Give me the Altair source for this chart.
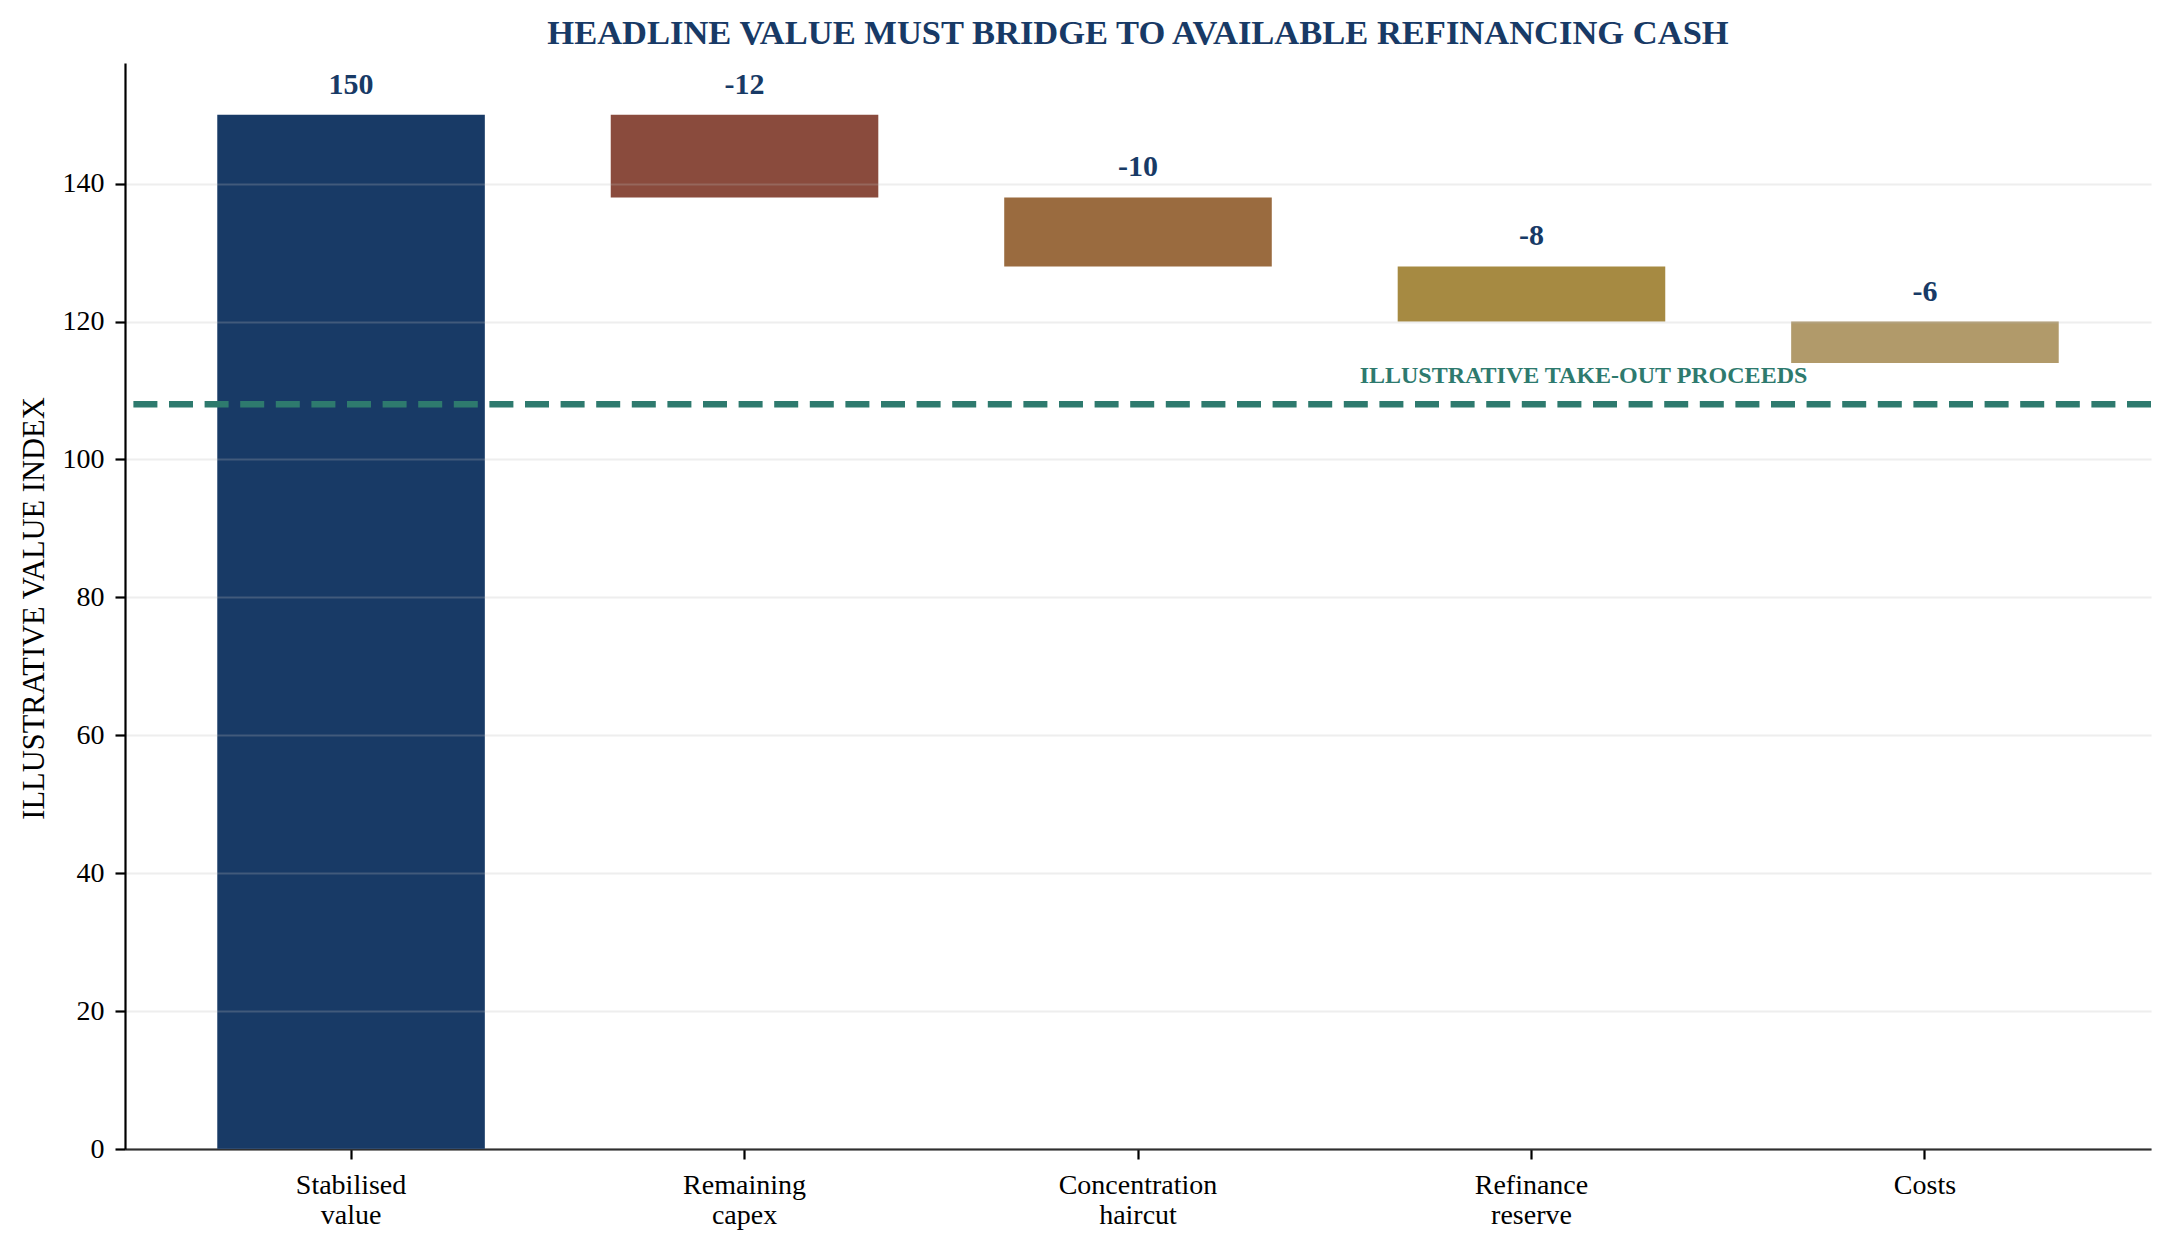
import altair as alt
import pandas as pd

# Waterfall steps
steps = ["Stabilised value", "Remaining capex", "Concentration haircut", "Refinance reserve", "Costs"]
deltas = [150, -12, -10, -8, -6]
value_labels = ["150", "-12", "-10", "-8", "-6"]
bar_colors = ["#183A66", "#8A4B3D", "#9A6B3F", "#A68A42", "#B19A6A"]

takeout = 108
takeout_step = "Refinance reserve"
takeout_label = "ILLUSTRATIVE TAKE-OUT PROCEEDS"

y_ticks = [0, 20, 40, 60, 80, 100, 120, 140]
y_max = 157.5

NAVY = "#183A66"
TEAL = "#2E7A6E"
SERIF = "Liberation Serif"

# running totals for the bridge
end = pd.Series(deltas).cumsum()
start = end - pd.Series(deltas)
bars = pd.DataFrame({
    "step": steps,
    "hi": pd.concat([start, end], axis=1).max(axis=1),
    "lo": pd.concat([start, end], axis=1).min(axis=1),
    "label": value_labels,
})

x_enc = alt.X(
    "step:N",
    sort=steps,
    scale=alt.Scale(paddingInner=0.32, paddingOuter=0.2345),
    axis=alt.Axis(
        title=None, labelAngle=0, labelExpr="split(datum.label, ' ')",
        labelFontSize=28, labelLineHeight=30, labelPadding=12,
        tickSize=10, grid=False,
    ),
)
y_scale = alt.Scale(domain=[0, y_max], nice=False, zero=True)

bar_layer = alt.Chart(bars).mark_bar().encode(
    x=x_enc,
    y=alt.Y("hi:Q", scale=y_scale, axis=alt.Axis(
        title="ILLUSTRATIVE VALUE INDEX", values=y_ticks, grid=True,
        gridColor="#bbbbbb", gridOpacity=0.25, gridWidth=2, zindex=1,
        labelFontSize=28, labelPadding=11, tickSize=10,
        titleFontSize=30.5, titleFontWeight="normal",
        titleAngle=270, titleBaseline="alphabetic", titleX=-82, titleY=545,
    )),
    y2="lo:Q",
    color=alt.Color("step:N", scale=alt.Scale(domain=steps, range=bar_colors), legend=None),
)

value_layer = alt.Chart(bars).mark_text(
    font=SERIF, fontSize=30, fontWeight="bold", color=NAVY,
    baseline="alphabetic", dy=-21,
).encode(x=x_enc, y=alt.Y("hi:Q", scale=y_scale), text="label:N")

line_df = pd.DataFrame({"hi": [takeout]})
rule_layer = alt.Chart(line_df).mark_rule(
    color=TEAL, strokeWidth=6.5, strokeDash=[24, 11.6],
).encode(y=alt.Y("hi:Q", scale=y_scale))

note_df = pd.DataFrame({"step": [takeout_step], "hi": [takeout], "label": [takeout_label]})
note_layer = alt.Chart(note_df).mark_text(
    font=SERIF, fontSize=24, fontWeight="bold", color=TEAL,
    align="center", baseline="alphabetic", dx=52, dy=-21,
).encode(x=x_enc, y=alt.Y("hi:Q", scale=y_scale), text="label:N")

chart = alt.layer(bar_layer, rule_layer, value_layer, note_layer).properties(
    width=2026,
    height=1086,
    padding={"left": 117, "top": 55, "right": 11, "bottom": 95},
    autosize=alt.AutoSizeParams(type="none"),
    title=alt.Title(
        "HEADLINE VALUE MUST BRIDGE TO AVAILABLE REFINANCING CASH",
        font=SERIF, fontSize=34.5, fontWeight="bold", color=NAVY,
        anchor="middle", frame="group", baseline="alphabetic", offset=-15,
    ),
).configure_view(
    stroke=None
).configure_axis(
    labelFont=SERIF, titleFont=SERIF, labelColor="black", titleColor="black",
    domainColor="black", domainWidth=2.2, tickColor="black", tickWidth=2.2,
)

chart.save("out.html", embed_options={"renderer": "svg", "actions": False})
